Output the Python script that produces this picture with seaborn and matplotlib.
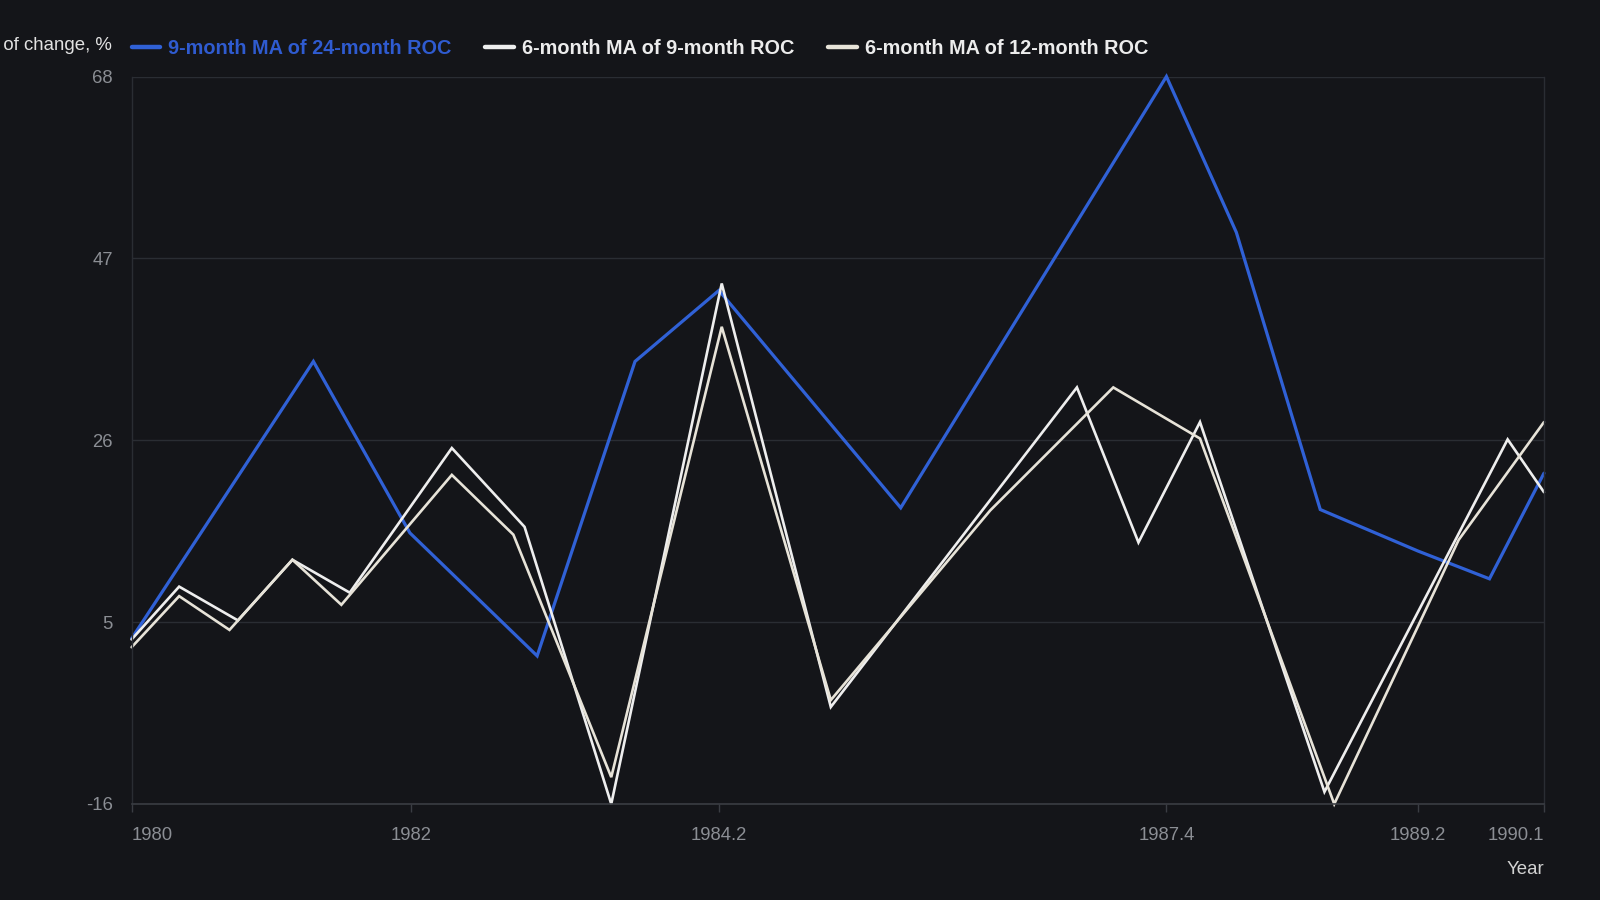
import matplotlib
matplotlib.use("Agg")
import matplotlib.pyplot as plt
import seaborn as sns
import pandas as pd
from matplotlib.lines import Line2D

# ---------------- data ----------------
series_names = ["9-month MA of 24-month ROC",
                "6-month MA of 9-month ROC",
                "6-month MA of 12-month ROC"]

years_24 = [1980.0, 1981.30, 1981.99, 1982.90, 1983.60, 1984.20, 1985.50,
            1987.40, 1987.90, 1988.50, 1989.20, 1989.71, 1990.1]
ma9_roc24 = [3.1, 35.1, 15.3, 1.1, 35.1, 43.3, 18.2,
             68.0, 50.0, 18.0, 13.2, 10.0, 22.2]

years_9 = [1980.0, 1980.34, 1980.76, 1981.15, 1981.56, 1982.29, 1982.81, 1983.43,
           1984.22, 1985.0, 1986.76, 1987.20, 1987.64, 1988.53, 1989.84, 1990.1]
ma6_roc9 = [3.0, 9.1, 5.2, 12.2, 8.4, 25.1, 16.0, -16.0,
            44.1, -4.8, 32.1, 14.2, 28.1, -14.6, 26.1, 20.0]

years_12 = [1980.0, 1980.34, 1980.70, 1981.15, 1981.50, 1982.29, 1982.73, 1983.43,
            1984.22, 1985.0, 1986.14, 1987.02, 1987.64, 1988.60, 1989.49, 1990.1]
ma6_roc12 = [2.1, 8.0, 4.1, 12.2, 7.0, 22.0, 15.1, -12.9,
             39.1, -4.0, 17.9, 32.1, 26.2, -16.0, 14.5, 28.1]

x_ticks = [1980, 1982, 1984.2, 1987.4, 1989.2, 1990.1]
x_tick_labels = ["1980", "1982", "1984.2", "1987.4", "1989.2", "1990.1"]
y_ticks = [-16, 5, 26, 47, 68]
y_tick_labels = ["-16", "5", "26", "47", "68"]

# ---------------- style ----------------
BG = "#141519"
GRID = "#2a2d33"
AXIS = "#3a3d43"
TICKTXT = "#8b8e94"
BLUE = "#3061d6"
BLUE_TXT = "#2f5bd0"
WHITE1 = "#eeeeee"
WHITE2 = "#e7e3d8"

sns.set_style("dark", {"axes.facecolor": BG, "figure.facecolor": BG})
plt.rcParams["font.family"] = ["Liberation Sans", "DejaVu Sans"]

fig = plt.figure(figsize=(16, 9), dpi=100)
fig.patch.set_facecolor(BG)
ax = fig.add_axes([0.08225, 0.10667, 0.88275, 0.80833])
ax.set_facecolor(BG)

df24 = pd.DataFrame({"year": years_24, "value": ma9_roc24})
df9 = pd.DataFrame({"year": years_9, "value": ma6_roc9})
df12 = pd.DataFrame({"year": years_12, "value": ma6_roc12})

common = dict(ax=ax, x="year", y="value", sort=False, estimator=None)
sns.lineplot(data=df24, color=BLUE, lw=2.3, **common)
sns.lineplot(data=df9, color=WHITE1, lw=1.9, **common)
sns.lineplot(data=df12, color=WHITE2, lw=1.9, **common)
for ln in ax.get_lines():
    ln.set_clip_on(False)
    ln.set_solid_joinstyle("miter")

ax.set_xlim(1980, 1990.1)
ax.set_ylim(-16, 68)
ax.set_xticks(x_ticks)
ax.set_xticklabels(x_tick_labels)
ax.set_yticks(y_ticks)
ax.set_yticklabels(y_tick_labels)
ax.set_xlabel("")
ax.set_ylabel("")

xl = ax.get_xticklabels()
xl[0].set_ha("left")
xl[-1].set_ha("right")

ax.yaxis.grid(True, color=GRID, lw=1)
ax.xaxis.grid(False)
ax.set_axisbelow(True)

for s in ["left", "right"]:
    ax.spines[s].set_visible(True)
    ax.spines[s].set_color(GRID)
    ax.spines[s].set_linewidth(1)
ax.spines["top"].set_visible(False)
ax.spines["bottom"].set_visible(True)
ax.spines["bottom"].set_color(AXIS)
ax.spines["bottom"].set_linewidth(1.2)

ax.tick_params(axis="x", length=5.8, width=1, color=AXIS, labelcolor=TICKTXT,
               labelsize=13.3, pad=10.5, bottom=True)
ax.tick_params(axis="y", length=0, labelcolor=TICKTXT, labelsize=13.3, pad=13.5, left=True)

# legend
handles = [Line2D([], [], color=BLUE, lw=3.2),
           Line2D([], [], color=WHITE1, lw=3.2),
           Line2D([], [], color=WHITE2, lw=3.2)]
leg = ax.legend(handles, series_names, ncol=3, loc="center left",
                bbox_to_anchor=(0.0, 1.039), frameon=False, borderpad=0,
                borderaxespad=0, handlelength=1.43, handletextpad=0.4,
                columnspacing=1.72, prop={"weight": "bold", "size": 14.3})
txt_colors = [BLUE_TXT, "#ececec", "#ececec"]
for t, c in zip(leg.get_texts(), txt_colors):
    t.set_color(c)

fig.text(0.07, 1 - 45 / 900, "Rate of change, %", ha="right", va="center",
         color="#e2e2e2", fontsize=13.4)
fig.text(1544 / 1600, 1 - 869 / 900, "Year", ha="right", va="center",
         color="#d2d2d2", fontsize=13.4)

fig.savefig("out.png", dpi=100, facecolor=BG)
